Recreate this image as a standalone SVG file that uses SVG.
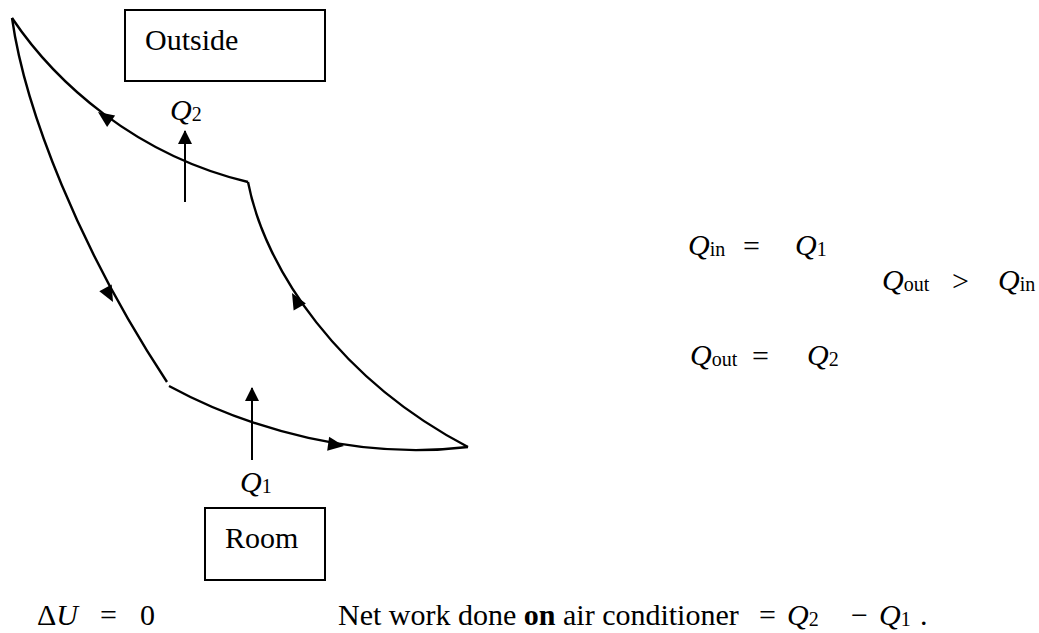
<svg xmlns="http://www.w3.org/2000/svg" width="1039" height="633" viewBox="0 0 1039 633" font-family="'Liberation Serif', 'DejaVu Serif', serif">
<style>
  text { font-family: 'Liberation Serif', 'DejaVu Serif', serif; font-size: 30px; fill: #000; }
  .i { font-style: italic; }
  .s { font-size: 20px; font-style: normal; }
  .b { font-weight: bold; }
  .box { fill: none; stroke: #000; stroke-width: 2; }
  .curve { fill: none; stroke: #000; stroke-width: 2.4; }
  .flow { fill: none; stroke: #000; stroke-width: 2; marker-end: url(#arr); }
</style>
<defs>
  <marker id="arr" viewBox="0 0 14 14" refX="13" refY="7" markerWidth="14" markerHeight="14" markerUnits="userSpaceOnUse" orient="auto">
    <path d="M0,0 L14,7 L0,14 Z" fill="#000"/>
  </marker>
  <path id="ah" d="M0,0 L-16,-7 L-16,7 Z" fill="#000"/>
</defs>

<g id="connectors">
  <path class="curve" d="M12,18 C55,82 135,155 248,182"/>
  <path class="curve" d="M12,18 C25,110 80,250 167,382"/>
  <path class="curve" d="M248,182 C265,270 340,380 468,447"/>
  <path class="curve" d="M169,386 C250,430 360,460 468,447"/>
  <use href="#ah" transform="translate(98,112) rotate(-145)"/>
  <use href="#ah" transform="translate(113,302) rotate(62)"/>
  <use href="#ah" transform="translate(292,293) rotate(-119)"/>
  <use href="#ah" transform="translate(344,446) rotate(8)"/>
  <path class="flow" d="M185,202 L185,131"/>
  <path class="flow" d="M252,460 L252,388"/>
</g>

<g id="outside">
  <rect class="box" x="125" y="10" width="200" height="71"/>
  <text x="145" y="50">Outside</text>
</g>

<g id="room">
  <rect class="box" x="205" y="508" width="120" height="72"/>
  <text x="225" y="548">Room</text>
</g>

<g id="q2-label">
  <text class="i" x="170" y="120">Q<tspan class="s" dy="1">2</tspan></text>
</g>
<g id="q1-label">
  <text class="i" x="240" y="492">Q<tspan class="s" dy="1">1</tspan></text>
</g>

<g id="equations">
  <text class="i" x="688" y="255">Q<tspan class="s" dy="1">in</tspan></text>
  <text x="743" y="256">=</text>
  <text class="i" x="795" y="255">Q<tspan class="s" dy="1">1</tspan></text>

  <text class="i" x="882" y="290">Q<tspan class="s" dy="1">out</tspan></text>
  <text x="952" y="291">&gt;</text>
  <text class="i" x="998" y="290">Q<tspan class="s" dy="1">in</tspan></text>

  <text class="i" x="690" y="365">Q<tspan class="s" dy="1">out</tspan></text>
  <text x="752" y="366">=</text>
  <text class="i" x="807" y="365">Q<tspan class="s" dy="1">2</tspan></text>
</g>

<g id="bottom">
  <text x="37" y="625">Δ<tspan class="i">U</tspan></text>
  <text x="100" y="625">=</text>
  <text x="140" y="625">0</text>
  <text x="338" y="625">Net work done <tspan class="b">on</tspan> air conditioner</text>
  <text x="759" y="625">=</text>
  <text class="i" x="787" y="625">Q<tspan class="s" dy="1">2</tspan></text>
  <text x="851" y="625">−</text>
  <text class="i" x="879" y="625">Q<tspan class="s" dy="1">1</tspan></text>
  <text x="920" y="625">.</text>
</g>
</svg>
